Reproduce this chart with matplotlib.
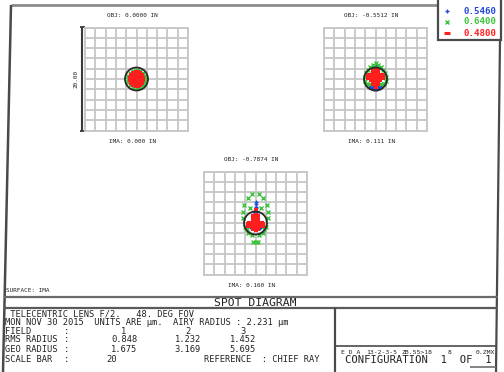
import matplotlib.pyplot as plt
from matplotlib.patches import Circle, Rectangle

# figure size in pixels (dpi 100)
W, H = 504, 372

# lens / analysis data
wavelengths = ["0.5460", "0.6400", "0.4800"]
wave_colors = ["#2448d8", "#3cc43c", "#ff1e1e"]
wave_markers = ["+", "x", "s"]
fields = [1, 2, 3]
obj_heights = ["0.0000", "-0.5512", "-0.7874"]
ima_heights = ["0.000", "0.111", "0.160"]
rms_radius = [0.848, 1.232, 1.452]
geo_radius = [1.675, 3.169, 5.695]
airy_radius = 2.231
scale_bar = 20

# ray intercepts relative to chief ray (micrometres), one list per wavelength
f1_blue = [(-1.2, 0.4), (1.2, 0.4), (-0.9, -1.0), (0.9, -1.0), (0.0, 1.3), (0.0, -1.3)]
f1_green = [(1.7, 0.0), (1.57, 0.65), (1.2, 1.2), (0.65, 1.57), (0.0, 1.7),
            (-0.65, 1.57), (-1.2, 1.2), (-1.57, 0.65), (-1.7, 0.0), (-1.57, -0.65),
            (-1.2, -1.2), (-0.65, -1.57), (0.0, -1.7), (0.65, -1.57), (1.2, -1.2),
            (1.57, -0.65)]
f1_red = [(0.0, 0.0), (0.5, 0.0), (-0.5, 0.0), (0.0, 0.5), (0.0, -0.5),
          (0.5, 0.5), (-0.5, 0.5), (0.5, -0.5), (-0.5, -0.5),
          (1.1, 0.0), (0.95, 0.55), (0.55, 0.95), (0.0, 1.1), (-0.55, 0.95),
          (-0.95, 0.55), (-1.1, 0.0), (-0.95, -0.55), (-0.55, -0.95), (0.0, -1.1),
          (0.55, -0.95), (0.95, -0.55)]

f2_blue = [(0.0, 2.5), (0.0, 2.2), (-1.6, -1.1), (-1.2, -1.5), (-0.7, -1.8), (-0.2, -1.9),
           (0.3, -1.9), (0.8, -1.7), (1.3, -1.4), (1.7, -1.0), (-0.9, -1.3), (0.9, -1.3),
           (0.0, -1.5), (-0.5, -1.5), (0.5, -1.5)]
f2_green = [(0.0, 3.1), (-0.5, 2.8), (0.5, 2.8), (-1.0, 2.4), (1.0, 2.4), (-1.5, 1.8),
            (1.5, 1.8), (-1.9, 1.1), (1.9, 1.1), (-2.1, 0.4), (2.1, 0.4), (-2.0, -0.3),
            (2.0, -0.3), (-1.7, -0.9), (1.7, -0.9), (-1.0, -0.9), (1.0, -0.9),
            (-0.4, 2.2), (0.4, 2.2)]
f2_red = [(0.0, 1.9), (0.0, 1.5), (0.0, 1.1), (0.0, 0.7), (0.0, 0.3), (0.0, -0.1),
          (0.0, -0.5), (0.0, -0.9), (0.0, -1.3), (0.0, -1.6),
          (-0.4, 1.5), (0.4, 1.5), (-0.4, 1.1), (0.4, 1.1), (-0.4, 0.7), (0.4, 0.7),
          (-0.4, 0.3), (0.4, 0.3), (-0.4, -0.1), (0.4, -0.1), (-0.4, -0.5), (0.4, -0.5),
          (-0.4, -0.9), (0.4, -0.9),
          (-0.8, 0.8), (0.8, 0.8), (-1.2, 0.8), (1.2, 0.8), (-1.5, 0.6), (1.5, 0.6),
          (-0.8, 0.3), (0.8, 0.3), (-1.2, 0.3), (1.2, 0.3), (-1.5, 0.2), (1.5, 0.2),
          (-0.8, -0.2), (0.8, -0.2)]

f3_blue = [(0.0, 4.0), (0.0, 3.6), (0.0, 3.2), (0.0, 2.9), (-0.3, 2.2), (0.3, 2.2),
           (-0.9, -0.9), (0.9, -0.9)]
f3_green = [(-0.6, 5.6), (0.6, 5.6), (-1.4, 4.8), (1.4, 4.8), (-2.2, 3.5), (2.2, 3.5),
            (-2.5, 2.2), (2.5, 2.2), (-2.5, 0.9), (2.5, 0.9), (-2.1, -0.8), (2.1, -0.8),
            (-1.4, -2.0), (1.4, -2.0), (-1.6, -1.2), (1.6, -1.2), (-0.6, -2.3),
            (0.6, -2.3), (-0.4, -3.7), (0.0, -3.7), (0.4, -3.7), (-1.0, 3.0), (1.0, 3.0)]
f3_red = [(0.0, 2.5), (0.0, 1.5), (0.0, 1.1), (0.0, 0.7), (0.0, 0.3), (0.0, -0.1),
          (0.0, -0.5), (0.0, -0.9), (0.0, -1.3),
          (-0.4, 1.3), (0.4, 1.3), (-0.4, 0.9), (0.4, 0.9), (-0.4, 0.5), (0.4, 0.5),
          (-0.4, 0.1), (0.4, 0.1), (-0.4, -0.3), (0.4, -0.3), (-0.4, -0.7), (0.4, -0.7),
          (-0.4, -1.1), (0.4, -1.1),
          (-0.8, 0.0), (0.8, 0.0), (-1.2, 0.0), (1.2, 0.0), (-1.5, -0.2), (1.5, -0.2),
          (-0.8, -0.5), (0.8, -0.5), (-1.2, -0.5), (1.2, -0.5), (-1.5, -0.6), (1.5, -0.6)]

spots = [[f1_blue, f1_green, f1_red],
         [f2_blue, f2_green, f2_red],
         [f3_blue, f3_green, f3_red]]

MONO = "DejaVu Sans Mono"
LINE = "#4a4a4a"
GRID = "#c6c6c6"
RED_MS = [3.9, 3.2, 3.2]

fig = plt.figure(figsize=(W / 100, H / 100), dpi=100)
fig.patch.set_facecolor("white")

# overlay in pixel coordinates for frame, labels and text block
bg = fig.add_axes([0, 0, 1, 1])
bg.set_xlim(0, W)
bg.set_ylim(H, 0)
bg.axis("off")


def txt(x, y, s, size=4.3, ha="center", color="#222222", **kw):
    bg.text(x, y, s, fontsize=size, ha=ha, va="center", family=MONO,
            color=color, **kw)


def seg(x0, y0, x1, y1, color=LINE, lw=1.5):
    bg.plot([x0, x1], [y0, y1], color=color, lw=lw, solid_capstyle="butt")


# outer frame (page is slightly skewed)
seg(11, 5, 438, 5, color="#8c8c8c", lw=2)
seg(11, 5, 3, 372, lw=1.8)
seg(500, 40, 496, 372, lw=1.6)
seg(3.9, 297, 497.5, 297, color="#6a6a6a", lw=1.6)
seg(3.5, 308, 497.3, 308, color="#5a5a5a", lw=1.6)
seg(335, 308, 335, 372, lw=1.6)
seg(335, 346, 497, 346, lw=1.2)
seg(470, 367, 496, 367, color="#707070", lw=1.2)

# spot panels
centers = [(136.5, 79), (375.5, 79), (255.5, 223)]
SIZE = 103
half = scale_bar / 2
for i, (cx, cy) in enumerate(centers):
    x0, y0 = cx - SIZE / 2, cy - SIZE / 2
    ax = fig.add_axes([x0 / W, 1 - (y0 + SIZE) / H, SIZE / W, SIZE / H])
    ax.set_xlim(-half, half)
    ax.set_ylim(-half, half)
    ticks = [v for v in range(-10, 11, 2)]
    ax.set_xticks(ticks)
    ax.set_yticks(ticks)
    ax.tick_params(length=0, labelbottom=False, labelleft=False)
    ax.grid(True, color=GRID, lw=1.3)
    ax.set_axisbelow(True)
    for sp in ax.spines.values():
        sp.set_color(GRID)
        sp.set_linewidth(1.3)
    for w, pts in enumerate(spots[i]):
        xs = [p[0] for p in pts]
        ys = [p[1] for p in pts]
        if wave_markers[w] == "s":
            ax.plot(xs, ys, "s", ms=RED_MS[i], color=wave_colors[w], mew=0,
                    zorder=4 + w)
        else:
            ax.plot(xs, ys, wave_markers[w], ms=3.0, mew=1.0,
                    color=wave_colors[w], zorder=4 + w)
    ax.add_patch(Circle((0, 0), airy_radius, fill=False, ec="#2a2a2a", lw=1.3,
                        zorder=8))

    txt(cx - 4, cy - SIZE / 2 - 12, f"OBJ: {obj_heights[i]} IN")
    txt(cx - 4, cy + SIZE / 2 + 11, f"IMA: {ima_heights[i]} IN")

# scale bar beside the first panel
sx = 82
seg(sx, 27, sx, 131, color="#3a3a3a", lw=1.5)
seg(sx - 2.5, 27, sx + 2.5, 27, color="#3a3a3a", lw=1.3)
seg(sx - 2.5, 131, sx + 2.5, 131, color="#3a3a3a", lw=1.3)
txt(76, 79, f"{scale_bar:.2f}", rotation=90)

# wavelength legend
bg.add_patch(Rectangle((438, -3), 63, 43, fc="white", ec=LINE, lw=1.6, zorder=5))
for w, lam in enumerate(wavelengths):
    y = 11 + w * 11
    mk = wave_markers[w]
    if mk == "s":
        bg.plot(447, y, "_", ms=4, mew=2.2, color=wave_colors[w], zorder=6)
    else:
        bg.plot(447, y, mk, ms=3.2, mew=1.0, color=wave_colors[w], zorder=6)
    txt(480, y, lam, size=6.6, color=wave_colors[w], zorder=6, weight="bold")

# header and text block
txt(6, 291, "SURFACE: IMA", size=4.3, ha="left")
txt(255, 302.5, "SPOT DIAGRAM", size=8.2)

TS = 6.3
r = [314, 322.5, 331, 340, 349, 359]
txt(5, r[0], " TELECENTRIC LENS F/2.   48. DEG FOV", size=TS, ha="left")
txt(5, r[1], f"MON NOV 30 2015  UNITS ARE \u00b5m.  AIRY RADIUS : {airy_radius:.3f} \u00b5m",
    size=TS, ha="left")
rows = [("FIELD", [str(f) for f in fields]),
        ("RMS RADIUS", [f"{v:.3f}" for v in rms_radius]),
        ("GEO RADIUS", [f"{v:.3f}" for v in geo_radius])]
col_x = [124, 188, 243]
for k, (name, vals) in enumerate(rows):
    y = r[2 + k]
    txt(5, y, name, size=TS, ha="left")
    txt(67, y, ":", size=TS)
    for cxv, v in zip(col_x, vals):
        txt(cxv, y, v, size=TS)
txt(5, r[5], "SCALE BAR", size=TS, ha="left")
txt(67, r[5], ":", size=TS)
txt(112, r[5], str(scale_bar), size=TS)
txt(204, r[5], "REFERENCE  : CHIEF RAY", size=TS, ha="left")

# right info box
txt(341, 352, "E D A", size=4.6, ha="left")
txt(382, 352, "13-2-3-5", size=4.6)
txt(417, 352, "ZB.55>18", size=4.6)
txt(450, 352, "8", size=4.6)
txt(495, 352, "0.ZMX", size=4.6, ha="right")
txt(418, 360, "CONFIGURATION  1  OF  1", size=7.6)

fig.savefig("out.png", dpi=100)
